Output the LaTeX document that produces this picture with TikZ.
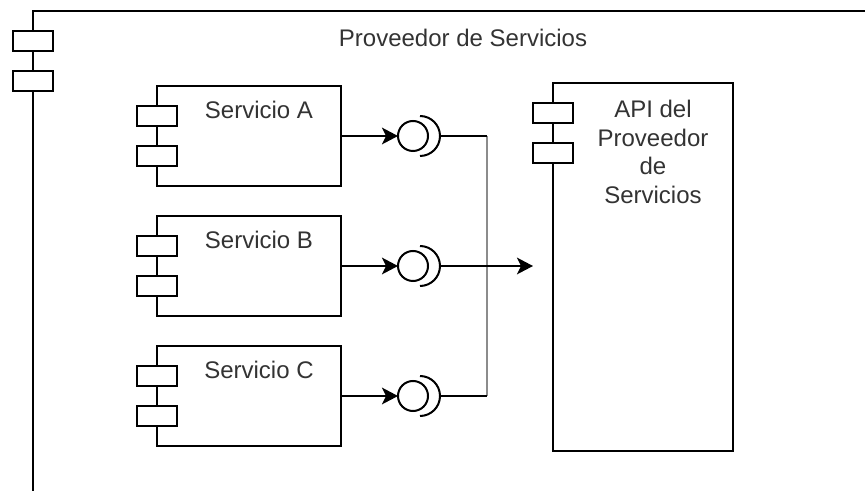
\documentclass[tikz,border=0pt]{standalone}
\usepackage{fontspec}
\setmainfont{Liberation Sans}
\usetikzlibrary{positioning,arrows.meta,calc}
\definecolor{cText}{RGB}{51,51,51}
\definecolor{cBus}{RGB}{140,140,140}

\begin{document}
\begin{tikzpicture}[x=0.75pt,y=-0.75pt,line width=1.5pt,
  srv/.style={draw,fill=white,minimum width=138pt,minimum height=75pt,inner sep=0pt,outer sep=0pt},
  api/.style={draw,fill=white,minimum width=135pt,minimum height=276pt,inner sep=0pt,outer sep=0pt},
  port/.style={draw,fill=white},
  iface/.style={circle,draw,minimum size=22.5pt,inner sep=0pt,outer sep=0pt},
  lbl/.style={text=cText,font=\fontsize{18}{21.6}\selectfont,inner sep=0pt},
  flow/.style={-{Stealth[length=12pt,width=12.5pt,inset=3pt]}}]
 \useasboundingbox (0,0) rectangle (865,491);
 % ---- outer container ----
 \coordinate (outer) at (33,11);
 \draw (33,491) -- (outer) -- (865,11);
 \node[lbl,anchor=base] (title) at (463,47) {Proveedor de Servicios};
 % ---- services and their interfaces ----
 \foreach \n/\y in {A/136,B/266,C/396} {
   \node[srv] (srv\n) at (249,\y) {};
   \node[lbl,anchor=base] (lbl\n) at ($(srv\n.north)+(10,33)$) {Servicio \n};
   \node[iface] (if\n) at (413,\y) {};
   \draw[flow] (srv\n.east) -- (if\n.west);
   \draw ([shift={(7,-20)}]if\n.center) arc[start angle=90,end angle=-90,radius=15pt];
   \coordinate (out\n) at ([xshift=20.25pt]if\n.center);
 }
 % ---- provider API ----
 \node[api] (api) at (643,267) {};
 \node[lbl,align=center,anchor=north] (lblApi) at ($(api.north)+(10,16)$)
      {API del\\Proveedor\\de\\Servicios};
 % ---- bus into the API ----
 \coordinate (bus) at (487,266);
 \coordinate (apiIn) at (533,266);
 \draw[cBus,line width=2.2pt] (outA -| bus) -- (outC -| bus);
 \draw (outA) -- (outA -| bus);
 \draw (outC) -- (outC -| bus);
 \draw[flow] (outB) -- (apiIn);
 % ---- component ports ----
 \foreach \c in {outer,srvA.north west,srvB.north west,srvC.north west,api.north west} {
   \draw[port] ($(\c)+(-20,20)$) rectangle ++(40,20);
   \draw[port] ($(\c)+(-20,60)$) rectangle ++(40,20);
 }
\end{tikzpicture}
\end{document}
